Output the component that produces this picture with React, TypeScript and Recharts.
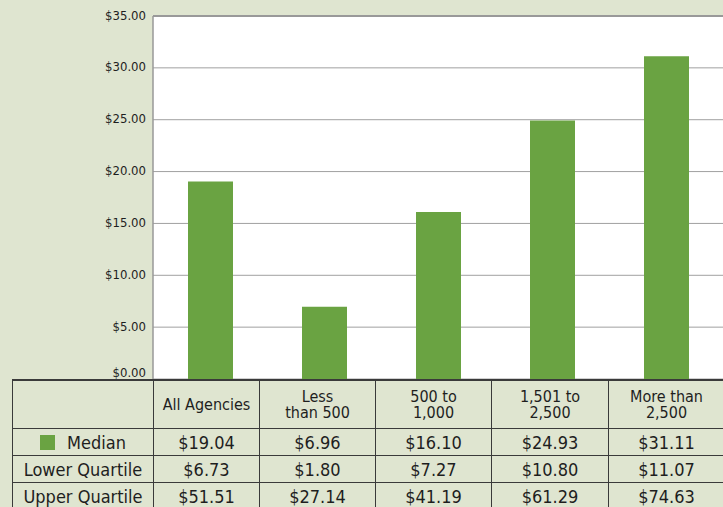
import { Bar, BarChart, CartesianGrid, ReferenceLine, XAxis, YAxis } from "recharts";

const BG = "#dfe5d0";
const GREEN = "#6aa342";
const INK = "#1e1e1e";
const FONT =
  '"Liberation Sans Narrow", "DejaVu Sans Condensed", "Roboto Condensed", "Roboto", sans-serif';

const categories = [
  "All Agencies",
  "Less\nthan 500",
  "500 to\n1,000",
  "1,501 to\n2,500",
  "More than\n2,500",
];
const median = [19.04, 6.96, 16.1, 24.93, 31.11];
const lowerQuartile = [6.73, 1.8, 7.27, 10.8, 11.07];
const upperQuartile = [51.51, 27.14, 41.19, 61.29, 74.63];
const yTicks = [0, 5, 10, 15, 20, 25, 30, 35];

const money = (v: number) => `$${v.toFixed(2)}`;

const data = categories.map((name, i) => ({ name, median: median[i] }));

const rows = [
  { label: "Median", values: median, swatch: true },
  { label: "Lower Quartile", values: lowerQuartile, swatch: false },
  { label: "Upper Quartile", values: upperQuartile, swatch: false },
];

const cell: React.CSSProperties = {
  boxSizing: "border-box",
  borderRight: "1px solid #3a3a3a",
  borderBottom: "1px solid #3a3a3a",
  display: "flex",
  alignItems: "center",
  justifyContent: "center",
  textAlign: "center",
  color: INK,
};

// the $0.00 label sits just above the table edge
function YTick(props: any) {
  const { x, y, payload } = props;
  const lift = payload.value === 0 ? -7 : -1;
  return (
    <text
      x={x}
      y={y + lift}
      dy="0.355em"
      textAnchor="end"
      fontSize={13}
      fill={INK}
      fontFamily={FONT}
    >
      {money(payload.value)}
    </text>
  );
}

function DataTable() {
  return (
    <div
      style={{
        position: "absolute",
        left: 12,
        top: 379,
        display: "grid",
        gridTemplateColumns: "141px 106px 116px 116px 117px 116px",
        gridTemplateRows: "48px 27px 27px 27px",
        borderTop: "2px solid #3a3a3a",
        borderLeft: "1px solid #3a3a3a",
        fontFamily: FONT,
      }}
    >
      <div style={cell} />
      {categories.map((c) => (
        <div
          key={c}
          style={{ ...cell, fontSize: 16, lineHeight: "16px", whiteSpace: "pre-line" }}
        >
          {c}
        </div>
      ))}
      {rows.map((r) => (
        <>
          <div key={r.label} style={{ ...cell, fontSize: 18 }}>
            {r.swatch && (
              <span
                style={{
                  display: "inline-block",
                  width: 15,
                  height: 15,
                  background: GREEN,
                  marginRight: 12,
                }}
              />
            )}
            {r.label}
          </div>
          {r.values.map((v, i) => (
            <div key={r.label + i} style={{ ...cell, fontSize: 18 }}>
              {money(v)}
            </div>
          ))}
        </>
      ))}
    </div>
  );
}

export default function App() {
  return (
    <div
      style={{
        position: "absolute",
        left: 0,
        top: 0,
        width: 723,
        height: 507,
        overflow: "hidden",
        background: BG,
        fontFamily: FONT,
      }}
    >
      <BarChart
        width={723}
        height={380}
        data={data}
        margin={{ top: 16, right: 0, bottom: 1, left: 0 }}
        barCategoryGap={0}
      >
        <CartesianGrid vertical={false} stroke="#a0a0a0" fill="#ffffff" fillOpacity={1} />
        <XAxis dataKey="name" hide />
        <YAxis
          width={153}
          domain={[0, 35]}
          ticks={yTicks}
          interval={0}
          axisLine={{ stroke: "#999999", strokeWidth: 1.5 }}
          tickLine={false}
          tickSize={0}
          tickMargin={7}
          tick={YTick}
        />
        <ReferenceLine y={35} stroke="#999999" strokeWidth={2} />
        <Bar dataKey="median" fill={GREEN} barSize={45} isAnimationActive={false} />
      </BarChart>
      <DataTable />
    </div>
  );
}
